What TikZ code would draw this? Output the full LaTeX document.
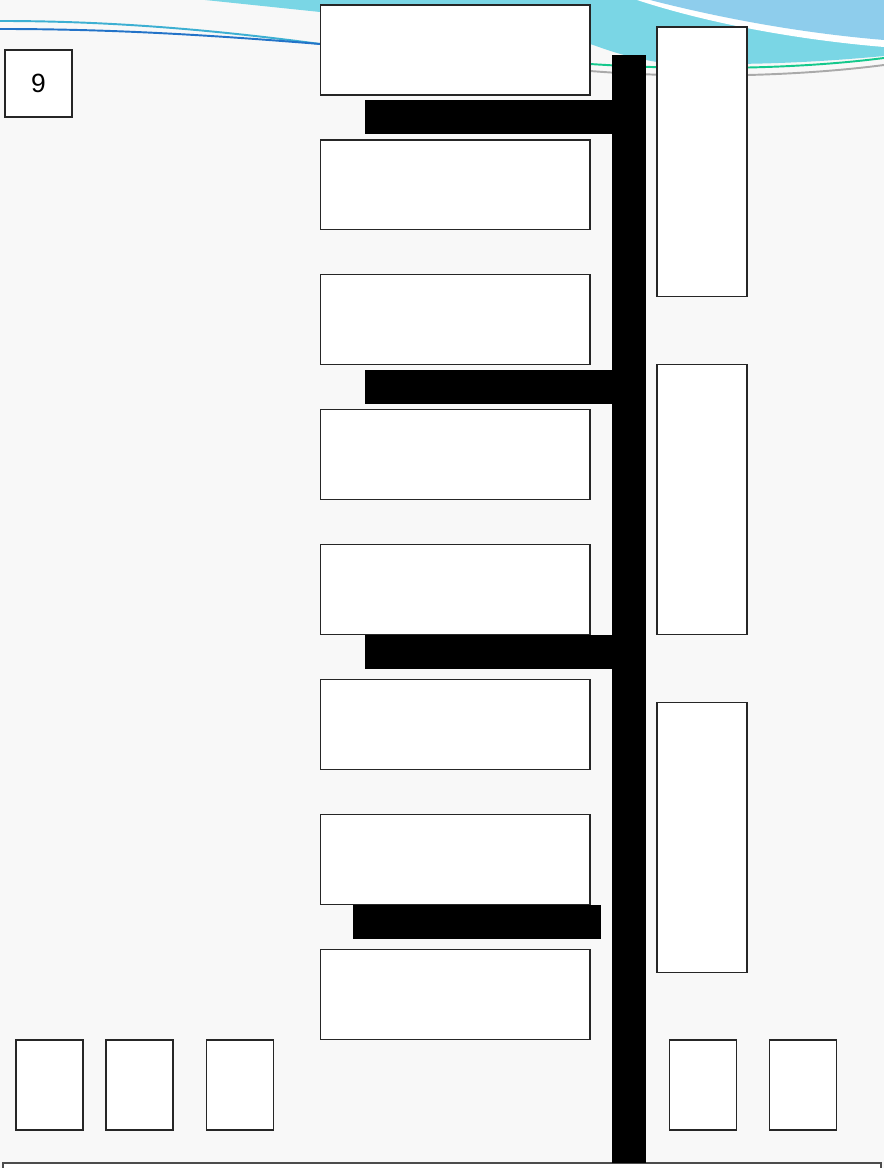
\documentclass[tikz,border=0pt]{standalone}
\usepackage{fontspec}
\setmainfont{Liberation Sans}
\usetikzlibrary{positioning}
\definecolor{pagebg}{RGB}{248,248,248}
\definecolor{swoosh}{RGB}{122,214,229}
\definecolor{skyblue}{RGB}{142,205,236}
\definecolor{lineblue}{RGB}{35,115,200}
\definecolor{linecyan}{RGB}{60,175,210}
\definecolor{linegreen}{RGB}{20,200,140}
\definecolor{linegray}{RGB}{170,170,170}

\begin{document}
\begin{tikzpicture}[x=0.02cm, y=-0.02cm,
  wbox/.style={draw=black!85, fill=white, line width=0.6pt, inner sep=0pt, outer sep=0pt},
  slot/.style={wbox, minimum width=5.4cm, minimum height=1.8cm},
  tall/.style={wbox, minimum width=1.8cm, minimum height=5.4cm},
  small/.style={wbox, minimum width=1.34cm, minimum height=1.8cm},
  bar/.style={fill=black}]

  % --- Page ---
  \useasboundingbox (0,0) rectangle (884,1168);
  \fill[pagebg] (0,0) rectangle (884,1168);

  % --- Header swoosh ---
  \fill[swoosh] (205,0) -- (884,0) -- (884,56)
    .. controls (800,64) and (720,66) .. (657,62)
    .. controls (620,56) and (600,47) .. (590,44) -- (320,12) -- cycle;
  \fill[white] (637,0) -- (884,0) -- (884,47)
    .. controls (800,40) and (710,24) .. (637,0);
  \fill[skyblue] (650,0) -- (884,0) -- (884,40)
    .. controls (800,33) and (720,18) .. (650,0);
  \draw[linecyan, line width=1.1pt] (0,21) .. controls (100,21) and (200,28) .. (320,44);
  \draw[lineblue, line width=1.1pt] (0,29) .. controls (120,29) and (220,36) .. (320,44);
  \draw[linegreen, line width=1.1pt] (590,64) .. controls (680,70) and (790,70) .. (884,58);
  \draw[linegray, line width=1.1pt] (590,71) .. controls (690,79) and (800,76) .. (884,65);

  % --- Page number ---
  \node[wbox, minimum size=1.34cm, font=\fontsize{15}{18}\selectfont] (num) at (38.5,83.5) {9};

  % --- Left column ---
  \node[slot] (L0) at (455,50) {};
  \node[slot, below=0.9cm of L0] (L1) {};
  \node[slot, below=0.9cm of L1] (L2) {};
  \node[slot, below=0.9cm of L2] (L3) {};
  \node[slot, below=0.9cm of L3] (L4) {};
  \node[slot, below=0.9cm of L4] (L5) {};
  \node[slot, below=0.9cm of L5] (L6) {};
  \node[slot, below=0.9cm of L6] (L7) {};

  % --- Right column ---
  \node[tall] (R0) at (702,162) {};
  \node[tall, below=1.36cm of R0] (R1) {};
  \node[tall, below=1.36cm of R1] (R2) {};

  % --- Bottom row ---
  \node[small] (B0) at (49.5,1085) {};
  \node[small, right=0.46cm of B0] (B1) {};
  \node[small, right=0.68cm of B1] (B2) {};
  \node[small] (B4) at (803,1085) {};
  \node[small, left=0.66cm of B4] (B3) {};

  % --- Footer ---
  \fill[white] (3,1163) rectangle (881,1168);
  \draw[black!70, line width=0.6pt] (3,1168) -- (3,1163) -- (881,1163) -- (881,1168);

  % --- Spine and branches ---
  \fill[bar] (612,55) rectangle (646,1163);
  \fill[bar] (365,100) rectangle (612,134);
  \fill[bar] (365,370) rectangle (612,404);
  \fill[bar] (365,635) rectangle (612,669);
  \fill[bar] (353,905) rectangle (601,939);

\end{tikzpicture}
\end{document}
